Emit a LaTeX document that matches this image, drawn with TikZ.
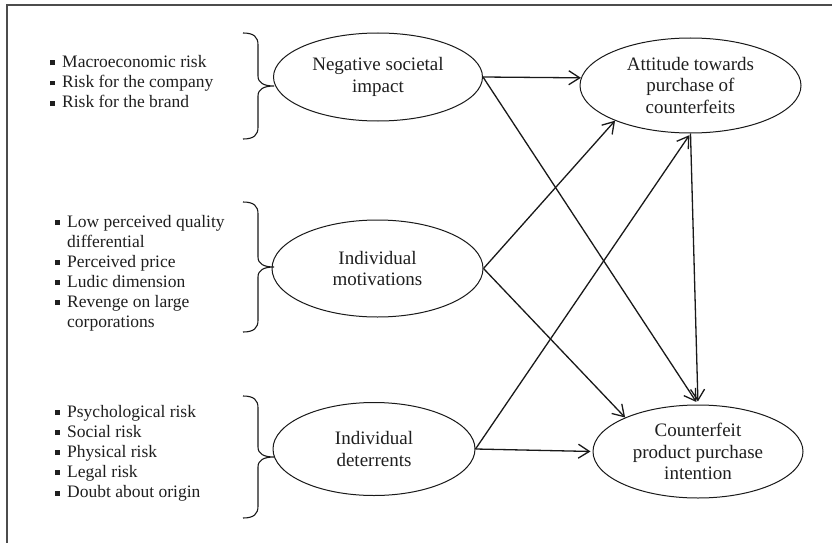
\documentclass[tikz,border=0pt]{standalone}
\usepackage{fontspec}
\setmainfont{Liberation Serif}
\usetikzlibrary{arrows.meta,shapes.geometric}
\newcommand{\sqbullet}{\makebox[12.5pt][l]{\raisebox{2pt}{\rule{4.8pt}{4.8pt}}}}
\newcommand{\drawcurlybrace}[3]{%
  \draw[bracket] (243,#1) .. controls (254,#1) and (258,{#1+4}) .. (258,{#1+12})
    -- (258,{#2-10}) .. controls (258,{#2-3}) and (264,#2) .. (274,#2)
    .. controls (264,#2) and (258,{#2+3}) .. (258,{#2+10})
    -- (258,{#3-12}) .. controls (258,{#3-4}) and (254,#3) .. (243,#3);}
\begin{document}
\begin{tikzpicture}[x=1pt,y=-1pt,
  concept/.style={ellipse, draw=black!90, line width=1pt, inner sep=0pt, align=center,
    font=\fontsize{19}{21.5}\selectfont, text=black!88},
  item/.style={anchor=base west, inner sep=0pt, font=\fontsize{17.5}{20}\selectfont, text=black!88},
  link/.style={draw=black!90, line width=1.3pt, -{Straight Barb[length=11pt,width=14pt]}},
  bracket/.style={draw=black!90, line width=1.1pt},
  frameline/.style={draw=black!70, line width=1.3pt}
]
\useasboundingbox (0,0) rectangle (832,543);
\fill[white] (0,0) rectangle (832,543);
\draw[frameline] (7,543) -- (7,5) -- (832,5);

% concepts
\node[concept, minimum width=209pt, minimum height=88pt] (neg) at (378,77) {Negative societal\\impact};
\node[concept, minimum width=221pt, minimum height=95pt] (att) at (690.5,85.5) {Attitude towards\\purchase of\\counterfeits};
\node[concept, minimum width=211pt, minimum height=97pt] (mot) at (377.5,268.5) {Individual\\motivations};
\node[concept, minimum width=202pt, minimum height=93pt] (det) at (374,449) {Individual\\deterrents};
\node[concept, minimum width=210pt, minimum height=93pt] (cpi) at (698,451.5) {Counterfeit\\product purchase\\intention};

% lists
\node[item] (l1a) at (49.5,67.3) {\sqbullet Macroeconomic risk};
\node[item] (l1b) at (49.5,87.5) {\sqbullet Risk for the company};
\node[item] (l1c) at (49.5,107.7) {\sqbullet Risk for the brand};

\node[item] (l2a) at (54.5,227) {\sqbullet Low perceived quality};
\node[item] (l2b) at (67,247) {differential};
\node[item] (l2c) at (54.5,267) {\sqbullet Perceived price};
\node[item] (l2d) at (54.5,287) {\sqbullet Ludic dimension};
\node[item] (l2e) at (54.5,307) {\sqbullet Revenge on large};
\node[item] (l2f) at (67,327) {corporations};

\node[item] (l3a) at (54.5,417) {\sqbullet Psychological risk};
\node[item] (l3b) at (54.5,437) {\sqbullet Social risk};
\node[item] (l3c) at (54.5,457) {\sqbullet Physical risk};
\node[item] (l3d) at (54.5,477) {\sqbullet Legal risk};
\node[item] (l3e) at (54.5,497.5) {\sqbullet Doubt about origin};

% braces
\drawcurlybrace{33}{86}{139}
\drawcurlybrace{202}{267}{332}
\drawcurlybrace{396}{457}{518}

% arrows
\draw[link] (neg.east) -- (att.176);
\draw[link, shorten >=3pt] (neg.east) -- (cpi.north);
\draw[link] (mot.east) -- (att.205);
\draw[link] (mot.east) -- (cpi.155);
\draw[link, shorten >=2pt] (det.east) -- (att.south);
\draw[link, shorten >=2pt] (det.east) -- (cpi.west);
\draw[link, shorten >=3pt] (att.south) -- (cpi.north);
\end{tikzpicture}
\end{document}
